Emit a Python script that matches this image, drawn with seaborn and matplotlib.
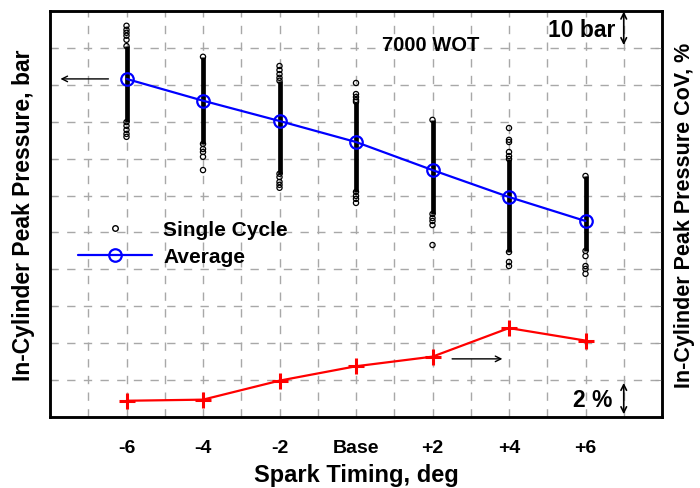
import pandas as pd
import seaborn as sns
import matplotlib.pyplot as plt
from matplotlib.lines import Line2D

# spark timing settings (x categories)
settings = ['-6', '-4', '-2', 'Base', '+2', '+4', '+6']

# average peak pressure, bar (left axis)
avg_pressure = [91.6, 85.7, 80.2, 74.5, 66.9, 59.6, 53.1]

# peak pressure CoV, % (right axis)
cov_pressure = [0.88, 0.94, 1.97, 2.75, 3.27, 4.82, 4.14]

# dense band of single-cycle peak pressures, bar
cycle_high = [100.5, 97.6, 91.1, 85.4, 80.5, 69.9, 65.3]
cycle_low = [79.9, 74.0, 65.9, 61.0, 55.0, 44.7, 45.0]

# isolated single cycles above / below the dense band, bar
cycle_top = [[106.0, 104.9, 104.1, 103.3, 102.2], [], [95.1, 94.0, 92.9, 91.9],
             [90.5, 87.5, 86.7, 85.9], [], [78.3, 75.1, 74.5, 71.8, 70.7], []]
cycle_bottom = [[78.9, 77.8, 76.7, 75.9], [72.6, 71.8, 70.5, 66.9],
                [65.0, 63.7, 62.9, 62.1], [59.9, 59.1, 58.0],
                [53.9, 53.1, 52.0, 46.6], [42.0, 40.9], [43.6, 40.9, 40.1, 38.8]]

sns.set_style('white')
plt.rcParams['font.family'] = ['Liberation Sans', 'DejaVu Sans']
plt.rcParams['font.weight'] = 'bold'
plt.rcParams['text.color'] = 'black'
plt.rcParams['axes.labelcolor'] = 'black'
plt.rcParams['xtick.color'] = 'black'
plt.rcParams['ytick.color'] = 'black'

pos = list(range(len(settings)))
avg_df = pd.DataFrame({'pos': pos, 'pressure': avg_pressure})
cov_df = pd.DataFrame({'pos': pos, 'cov': cov_pressure})

rows = []
for i in pos:
    for v in cycle_top[i] + [cycle_high[i], cycle_low[i]] + cycle_bottom[i]:
        rows.append((i, v))
cycles_df = pd.DataFrame(rows, columns=['pos', 'pressure'])

fig = plt.figure(figsize=(7, 4.89), dpi=100)
ax = fig.add_axes([50 / 700, 71 / 489, 612 / 700, 406 / 489])
ax2 = ax.twinx()

grid_kw = dict(color='#a8a8a8', linestyle=(0, (6, 6)), linewidth=1.0)

# single cycles
ax.vlines(pos, cycle_low, cycle_high, color='black', linewidth=3.4, zorder=3)
sns.scatterplot(data=cycles_df, x='pos', y='pressure', ax=ax, marker='o', s=14,
                facecolor='none', edgecolor='black', linewidth=0.9, zorder=4)

# average
sns.lineplot(data=avg_df, x='pos', y='pressure', ax=ax, color='#0000ff',
             linewidth=1.6, marker='o', markersize=9, markerfacecolor='none',
             markeredgecolor='#0000ff', markeredgewidth=1.6, zorder=5)

# CoV
sns.lineplot(data=cov_df, x='pos', y='cov', ax=ax2, color='#ff0000',
             linewidth=1.6, marker='+', markersize=12, markeredgewidth=2.2,
             markeredgecolor='#ff0000', zorder=5)

ax.set_xlim(-1, 7)
ax.set_ylim(0, 110)
ax2.set_ylim(0, 22)

ax.set_xticks(pos)
ax.set_xticklabels(settings, fontsize=14, fontweight='bold')
ax.set_xticks([p - 0.5 for p in pos] + [6.5], minor=True)
ax.set_yticks(range(10, 110, 10))
ax.set_yticklabels([])
ax2.set_yticks(range(2, 22, 2))
ax2.set_yticklabels([])

for x in [p * 0.5 for p in range(-1, 14)]:
    ax.axvline(x, zorder=0, **grid_kw)
for y in range(10, 110, 10):
    ax.axhline(y, zorder=0, **grid_kw)

ax.tick_params(axis='x', which='both', direction='out', length=7,
               color='#a0a0a0', width=1, pad=9)
ax.tick_params(axis='y', direction='in', length=5, color='#a0a0a0')
ax2.tick_params(axis='y', direction='in', length=5, color='#a0a0a0')
ax2.tick_params(axis='x', length=0)

for a in (ax, ax2):
    for s in a.spines.values():
        s.set_visible(True)
        s.set_color('black')
        s.set_linewidth(1.8)

ax.set_xlabel('Spark Timing, deg', fontsize=17, fontweight='bold', labelpad=5)
ax.set_ylabel('In-Cylinder Peak Pressure, bar', fontsize=16.5, fontweight='bold',
              labelpad=7)
ax2.set_ylabel('In-Cylinder Peak Pressure CoV, %', fontsize=15.5,
               fontweight='bold', labelpad=5)

# annotations
ax.text(3.98, 100.9, '7000 WOT', ha='center', va='center', fontsize=14.5,
        fontweight='bold')
ax.text(5.95, 105.0, '10 bar', ha='center', va='center', fontsize=16.5,
        fontweight='bold')
ax.annotate('', xy=(6.5, 100), xytext=(6.5, 110.6), annotation_clip=False,
            arrowprops=dict(arrowstyle='<->', color='black', lw=1.2))
ax2.text(6.1, 0.95, '2 %', ha='center', va='center', fontsize=16.5,
         fontweight='bold')
ax2.annotate('', xy=(6.5, 0), xytext=(6.5, 2), annotation_clip=False,
             arrowprops=dict(arrowstyle='<->', color='black', lw=1.2))
ax.annotate('', xy=(-0.9, 91.6), xytext=(-0.2, 91.6),
            arrowprops=dict(arrowstyle='->', color='black', lw=1.0))
ax2.annotate('', xy=(4.95, 3.15), xytext=(4.22, 3.15),
             arrowprops=dict(arrowstyle='->', color='black', lw=1.0))

handles = [
    Line2D([], [], linestyle='none', marker='o', markersize=4,
           markerfacecolor='none', markeredgecolor='black', markeredgewidth=1),
    Line2D([], [], color='#0000ff', linewidth=1.6, marker='o', markersize=9,
           markerfacecolor='none', markeredgecolor='#0000ff', markeredgewidth=1.6),
]
ax.legend(handles, ['Single Cycle', 'Average'], loc='center left',
          bbox_to_anchor=(0.015, 0.428), frameon=False, handlelength=3.55,
          handletextpad=0.55, labelspacing=0.38,
          prop={'size': 15, 'weight': 'bold'})

fig.savefig('out.png', dpi=100)
